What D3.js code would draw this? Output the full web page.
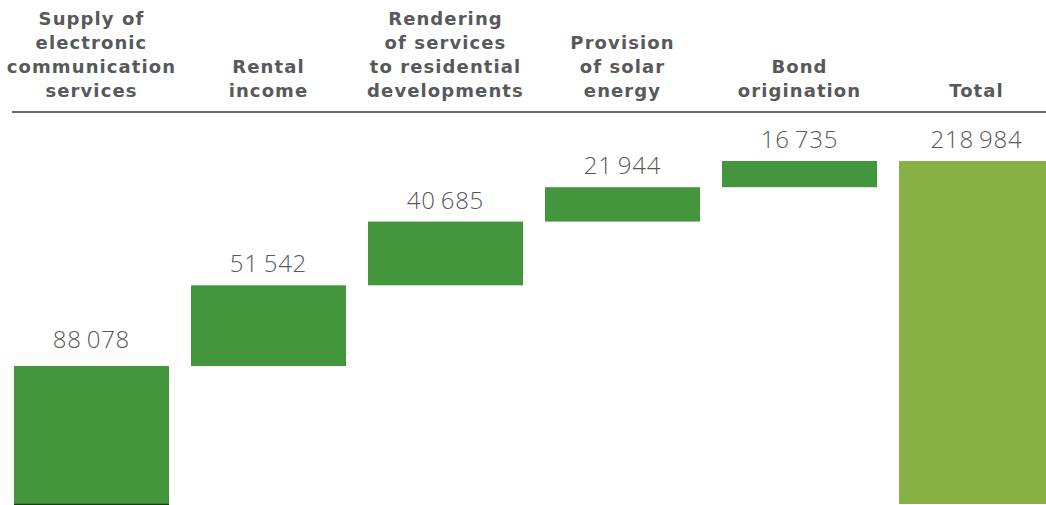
<!DOCTYPE html>
<html>
<head>
<meta charset="utf-8">
<script src="https://cdn.jsdelivr.net/npm/d3@7/dist/d3.min.js"></script>
<style>
  html, body { margin: 0; padding: 0; background: #fff; overflow: hidden; }
  svg { display: block; }
</style>
</head>
<body>
<svg id="chart" width="1046" height="505"></svg>
<script>
// ---- data ----
const categories = [
  ["Supply of", "electronic", "communication", "services"],
  ["Rental", "income"],
  ["Rendering", "of services", "to residential", "developments"],
  ["Provision", "of solar", "energy"],
  ["Bond", "origination"],
  ["Total"]
];
const values = [88078, 51542, 40685, 21944, 16735];
const totalValue = 218984;

// ---- build waterfall ----
const rows = [];
let run = 0;
values.forEach((v, i) => {
  rows.push({ idx: i, start: run, end: run + v, value: v, total: false });
  run += v;
});
rows.push({ idx: values.length, start: 0, end: totalValue, value: totalValue, total: true });

const svg = d3.select("#chart");
const W = 1046, H = 505;

const x = d3.scaleBand()
  .domain(d3.range(categories.length))
  .range([14, 1054])
  .paddingInner(0.1243)
  .paddingOuter(0);

const y = d3.scaleLinear()
  .domain([0, totalValue])
  .range([504, 161]);

const fmt = d3.formatLocale({ decimal: ".", thousands: "\u2009", grouping: [3], currency: ["", ""] }).format(",d");

const green = "#43963b";
const totalGreen = "#88b145";

// header labels
const headerG = svg.append("g");
const lineH = 24;
const lastBaseline = 97;
categories.forEach((lines, i) => {
  const cx = x(i) + x.bandwidth() / 2;
  const t = headerG.append("text")
    .attr("x", cx)
    .attr("text-anchor", "middle")
    .attr("font-family", "DejaVu Sans, sans-serif")
    .attr("font-weight", "bold")
    .attr("font-size", 18)
    .attr("letter-spacing", 1.1)
    .attr("fill", "#58595b");
  lines.forEach((ln, j) => {
    t.append("tspan")
      .attr("x", cx)
      .attr("y", lastBaseline - (lines.length - 1 - j) * lineH)
      .text(ln);
  });
});

// header rule
svg.append("line")
  .attr("x1", 12).attr("x2", W)
  .attr("y1", 112).attr("y2", 112)
  .attr("stroke", "#6d6e70")
  .attr("stroke-width", 2);

// bars
svg.append("g").selectAll("rect")
  .data(rows)
  .join("rect")
  .attr("x", d => x(d.idx))
  .attr("width", x.bandwidth())
  .attr("y", d => y(d.end))
  .attr("height", d => y(d.start) - y(d.end))
  .attr("fill", d => d.total ? totalGreen : green);

// dark base under first bar
svg.append("line")
  .attr("x1", x(0)).attr("x2", x(0) + x.bandwidth())
  .attr("y1", y(0) + 0.5).attr("y2", y(0) + 0.5)
  .attr("stroke", "#1f3d1b")
  .attr("stroke-width", 1.5);

// value labels
svg.append("g").selectAll("text")
  .data(rows)
  .join("text")
  .attr("x", d => x(d.idx) + x.bandwidth() / 2)
  .attr("y", d => y(d.end) - (d.idx === 0 ? 18 : 13))
  .attr("text-anchor", "middle")
  .attr("font-family", "Open Sans, sans-serif")
  .attr("font-weight", 300)
  .attr("font-size", 24)
  .attr("letter-spacing", 0.8)
  .attr("fill", "#58595b")
  .text(d => fmt(d.value));
</script>
</body>
</html>
